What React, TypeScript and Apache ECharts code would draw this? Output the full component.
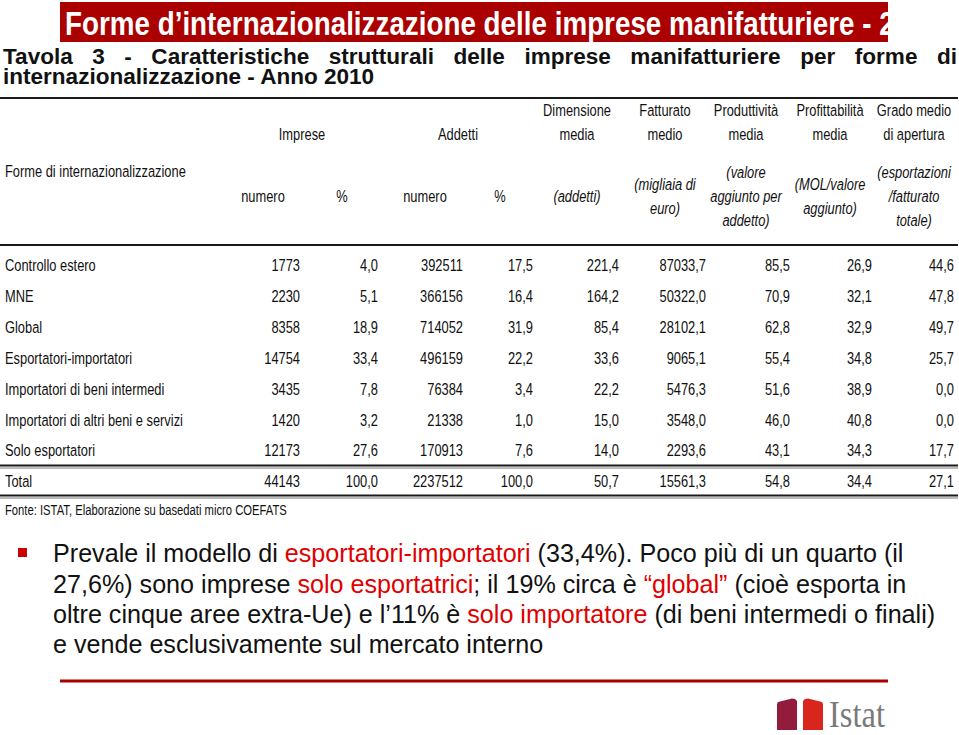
import React, { useEffect, useRef } from "react";
import * as echarts from "echarts";

// ---------- DATA ----------
const TITLE = "Forme d’internazionalizzazione delle imprese manifatturiere - 2";
const SUBTITLE_1 = "Tavola 3 - Caratteristiche strutturali delle imprese manifatturiere per forme di";
const SUBTITLE_2 = "internazionalizzazione - Anno 2010";

const stubHeader = "Forme di internazionalizzazione";
const groupHeaders = ["Imprese", "Addetti"];
const subHeaders = ["numero", "%", "numero", "%"];
const measureHeaders = [
  ["Dimensione", "media"],
  ["Fatturato", "medio"],
  ["Produttività", "media"],
  ["Profittabilità", "media"],
  ["Grado medio", "di apertura"],
];
const unitHeaders = [
  ["(addetti)"],
  ["(migliaia di", "euro)"],
  ["(valore", "aggiunto per", "addetto)"],
  ["(MOL/valore", "aggiunto)"],
  ["(esportazioni", "/fatturato", "totale)"],
];

const rowLabels = [
  "Controllo estero",
  "MNE",
  "Global",
  "Esportatori-importatori",
  "Importatori di beni intermedi",
  "Importatori di altri beni e servizi",
  "Solo esportatori",
  "Total",
];
const impreseNumero = [1773, 2230, 8358, 14754, 3435, 1420, 12173, 44143];
const impresePct = [4.0, 5.1, 18.9, 33.4, 7.8, 3.2, 27.6, 100.0];
const addettiNumero = [392511, 366156, 714052, 496159, 76384, 21338, 170913, 2237512];
const addettiPct = [17.5, 16.4, 31.9, 22.2, 3.4, 1.0, 7.6, 100.0];
const dimensioneMedia = [221.4, 164.2, 85.4, 33.6, 22.2, 15.0, 14.0, 50.7];
const fatturatoMedio = [87033.7, 50322.0, 28102.1, 9065.1, 5476.3, 3548.0, 2293.6, 15561.3];
const produttivitaMedia = [85.5, 70.9, 62.8, 55.4, 51.6, 46.0, 43.1, 54.8];
const profittabilitaMedia = [26.9, 32.1, 32.9, 34.8, 38.9, 40.8, 34.3, 34.4];
const gradoApertura = [44.6, 47.8, 49.7, 25.7, 0.0, 0.0, 17.7, 27.1];

const SOURCE = "Fonte: ISTAT, Elaborazione su basedati micro COEFATS";

// bullet text segments: [text, highlighted]
const bulletLines: [string, boolean][][] = [
  [["Prevale il modello di ", false], ["esportatori-importatori", true], [" (33,4%). Poco più di un quarto (il", false]],
  [["27,6%) sono imprese ", false], ["solo esportatrici", true], ["; il 19% circa è ", false], ["“global”", true], [" (cioè esporta in", false]],
  [["oltre cinque aree extra-Ue) e l’11% è ", false], ["solo importatore", true], [" (di beni intermedi o finali)", false]],
  [["e vende esclusivamente sul mercato interno", false]],
];
const LOGO_TEXT = "Istat";

// ---------- LAYOUT / STYLE ----------
const SANS = "'Liberation Sans', Arial, sans-serif";
const SERIF = "'Liberation Serif', 'Times New Roman', serif";
const DARK_RED = "#ab0000";
const HL_RED = "#e00000";
const INK = "#111111";

let ctx: CanvasRenderingContext2D | null = null;
function measure(text: string, font: string): number {
  if (!ctx) ctx = document.createElement("canvas").getContext("2d");
  ctx!.font = font;
  return ctx!.measureText(text).width;
}

function fontStr(size: number, bold = false, italic = false, family = SANS) {
  return `${italic ? "italic " : ""}${bold ? "bold " : ""}${size}px ${family}`;
}

function txt(
  x: number,
  y: number,
  text: string,
  o: { size: number; bold?: boolean; italic?: boolean; family?: string; fill?: string; align?: string; scaleX?: number }
) {
  const align = o.align || "left";
  return {
    type: "text",
    x,
    y,
    scaleX: o.scaleX ?? 1,
    silent: true,
    style: {
      x: 0,
      y: 0,
      text,
      font: fontStr(o.size, o.bold, o.italic, o.family),
      fill: o.fill || INK,
      align,
      textAlign: align,
      verticalAlign: "middle",
      textVerticalAlign: "middle",
    },
  };
}

function fmt1(v: number) {
  return v.toFixed(1).replace(".", ",");
}
function fmt0(v: number) {
  return String(Math.round(v));
}

function buildElements() {
  const els: any[] = [];

  // Title bar
  els.push({ type: "rect", shape: { x: 60, y: 2, width: 828, height: 40 }, style: { fill: DARK_RED } });
  const TSZ = 33;
  const titleFont = fontStr(TSZ, true);
  const titleScale = 830 / measure(TITLE, titleFont);
  els.push(txt(65, 23, TITLE, { size: TSZ, bold: true, fill: "#ffffff", scaleX: titleScale }));
  els.push({ type: "rect", shape: { x: 888, y: 0, width: 71, height: 45 }, style: { fill: "#ffffff" } });

  // Subtitle, justified first line
  const SSZ = 22;
  const subFont = fontStr(SSZ, true);
  const subScale = 372 / measure(SUBTITLE_2, subFont);
  const words = SUBTITLE_1.split(" ");
  const widths = words.map((w) => measure(w, subFont) * subScale);
  const total = widths.reduce((a, b) => a + b, 0);
  const left = 3;
  const right = 957;
  const gap = (right - left - total) / (words.length - 1);
  let cx = left;
  words.forEach((w, i) => {
    els.push(txt(cx, 57, w, { size: SSZ, bold: true, scaleX: subScale }));
    cx += widths[i] + gap;
  });
  els.push(txt(left, 77, SUBTITLE_2, { size: SSZ, bold: true, scaleX: subScale }));

  // Table lines
  const line = (y: number, w: number, c = "#1a1a1a") => ({
    type: "line",
    shape: { x1: 0, y1: y, x2: 958, y2: y },
    style: { stroke: c, lineWidth: w },
  });
  els.push(line(98, 2));
  els.push(line(245, 2));
  els.push(line(465.5, 2));
  els.push(line(468, 1, "#777777"));
  els.push(line(495.5, 2));
  els.push(line(498, 1, "#777777"));

  // Narrow scale for table text
  const TS = 16.5;
  const narrow = 178 / measure(rowLabels[5], fontStr(TS));

  // Headers
  const groupX = [302, 458];
  groupHeaders.forEach((h, i) => els.push(txt(groupX[i], 134, h, { size: TS, align: "center", scaleX: narrow })));
  const measX = [577, 665, 746, 830, 914];
  measureHeaders.forEach((lines, i) =>
    lines.forEach((l, j) => els.push(txt(measX[i], 110 + j * 24, l, { size: TS, align: "center", scaleX: narrow })))
  );
  unitHeaders.forEach((lines, i) =>
    lines.forEach((l, j) =>
      els.push(
        txt(measX[i], 196 + (j - (lines.length - 1) / 2) * 24, l, {
          size: TS,
          italic: true,
          align: "center",
          scaleX: narrow,
        })
      )
    )
  );
  const subX = [263, 342, 425, 500];
  subHeaders.forEach((h, i) => els.push(txt(subX[i], 196, h, { size: TS, align: "center", scaleX: narrow })));
  els.push(txt(5, 171, stubHeader, { size: TS, scaleX: narrow }));

  // Data
  const columns: { vals: number[]; f: (v: number) => string; r: number }[] = [
    { vals: impreseNumero, f: fmt0, r: 300 },
    { vals: impresePct, f: fmt1, r: 378 },
    { vals: addettiNumero, f: fmt0, r: 463 },
    { vals: addettiPct, f: fmt1, r: 533 },
    { vals: dimensioneMedia, f: fmt1, r: 619 },
    { vals: fatturatoMedio, f: fmt1, r: 706 },
    { vals: produttivitaMedia, f: fmt1, r: 790 },
    { vals: profittabilitaMedia, f: fmt1, r: 872 },
    { vals: gradoApertura, f: fmt1, r: 954 },
  ];
  const rowY = [265, 296, 327, 358, 389, 420, 450, 481];
  rowLabels.forEach((lab, i) => {
    els.push(txt(5, rowY[i], lab, { size: TS, scaleX: narrow }));
    columns.forEach((c) => els.push(txt(c.r, rowY[i], c.f(c.vals[i]), { size: TS, align: "right", scaleX: narrow })));
  });

  // Source
  const srcScale = 282 / measure(SOURCE, fontStr(15));
  els.push(txt(5, 510, SOURCE, { size: 15, scaleX: srcScale }));

  // Bullet
  els.push({ type: "rect", shape: { x: 18, y: 548, width: 9, height: 9 }, style: { fill: "#cc0000" } });
  const line1 = bulletLines[0].map((s) => s[0]).join("");
  const bSize = (22 * 851) / measure(line1, fontStr(22));
  const by = [553, 584, 614, 644];
  bulletLines.forEach((segs, i) => {
    const text = segs.map(([t, h]) => `{${h ? "r" : "k"}|${t}}`).join("");
    els.push({
      type: "text",
      x: 53,
      y: by[i],
      silent: true,
      style: {
        x: 0,
        y: 0,
        text,
        font: fontStr(bSize),
        fill: INK,
        align: "left",
        textAlign: "left",
        verticalAlign: "middle",
        textVerticalAlign: "middle",
        rich: {
          k: { fill: INK, fontSize: bSize, fontFamily: SANS },
          r: { fill: HL_RED, fontSize: bSize, fontFamily: SANS },
        },
      },
    });
  });

  // Bottom rule
  els.push({
    type: "line",
    shape: { x1: 60, y1: 681, x2: 888, y2: 681 },
    style: { stroke: DARK_RED, lineWidth: 3 },
  });

  // Istat logo
  els.push({
    type: "polygon",
    shape: { points: [[777, 704], [778, 702], [792, 698.5], [795, 699], [797, 701], [797, 730], [777, 730]] },
    style: { fill: "#931c3c" },
  });
  els.push({
    type: "polygon",
    shape: { points: [[803, 701], [805, 699], [808, 698.5], [822, 702], [823, 704], [823, 730], [803, 730]] },
    style: { fill: "#d8261c" },
  });
  const LSZ = 37;
  const logoScale = 56 / measure(LOGO_TEXT, fontStr(LSZ, false, false, SERIF));
  els.push(txt(829, 715, LOGO_TEXT, { size: LSZ, family: SERIF, fill: "#7a7a7a", scaleX: logoScale }));

  return els;
}

export default function App() {
  const ref = useRef<HTMLDivElement>(null);
  useEffect(() => {
    if (!ref.current) return;
    const chart = echarts.init(ref.current, null, { renderer: "svg", width: 959, height: 735 });
    chart.setOption({
      animation: false,
      backgroundColor: "#ffffff",
      graphic: { elements: buildElements() },
    });
    return () => chart.dispose();
  }, []);
  return (
    <div
      ref={ref}
      style={{ position: "fixed", left: 0, top: 0, width: 959, height: 735, background: "#fff" }}
    />
  );
}
